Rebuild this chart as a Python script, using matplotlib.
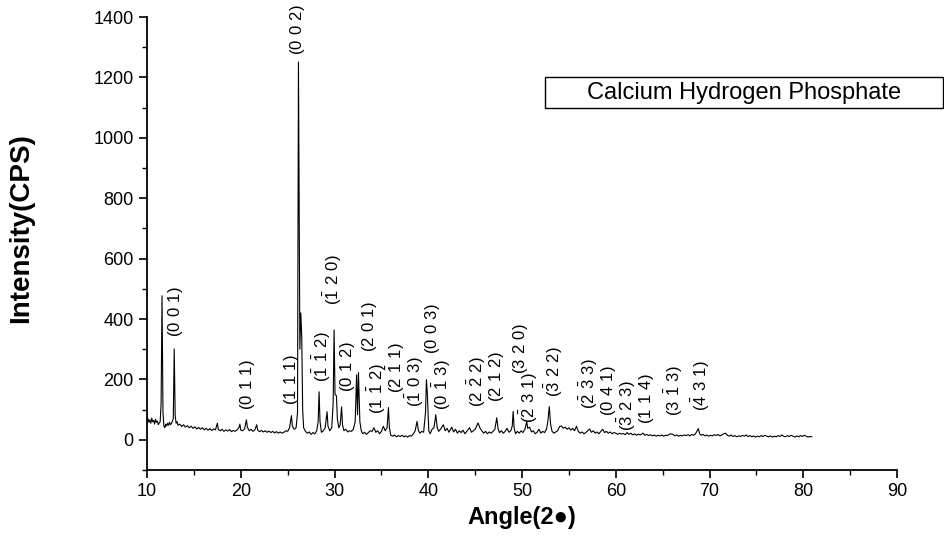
import matplotlib
matplotlib.use("Agg")
import matplotlib.pyplot as plt
from matplotlib.patches import Rectangle
from matplotlib.ticker import MultipleLocator

plt.rcParams['font.family'] = ['Liberation Sans', 'DejaVu Sans']

# XRD pattern (2theta, counts)
angle = [
    10.0, 10.1, 10.2, 10.3, 10.4, 10.5, 10.6, 10.7, 10.8, 10.9,
    11.0, 11.1, 11.2, 11.3, 11.4, 11.5, 11.6, 11.7, 11.8, 11.9,
    12.0, 12.1, 12.2, 12.3, 12.4, 12.5, 12.6, 12.7, 12.8, 12.9,
    13.0, 13.1, 13.2, 13.3, 13.5, 13.7, 13.9, 14.1, 14.3, 14.5,
    14.7, 14.9, 15.1, 15.3, 15.5, 15.7, 15.9, 16.1, 16.3, 16.5,
    16.7, 16.9, 17.1, 17.3, 17.5, 17.6, 17.8, 18.0, 18.2, 18.4,
    18.6, 18.8, 19.0, 19.2, 19.4, 19.6, 19.8, 19.9, 20.0, 20.2,
    20.4, 20.6, 20.7, 20.9, 21.1, 21.3, 21.5, 21.7, 21.8, 22.0,
    22.2, 22.4, 22.6, 22.8, 23.0, 23.2, 23.4, 23.6, 23.8, 24.0,
    24.2, 24.4, 24.6, 24.8, 25.0, 25.2, 25.4, 25.5, 25.7, 25.9,
    26.05, 26.15, 26.3, 26.4, 26.5, 26.6, 26.7, 26.9, 27.1, 27.3,
    27.5, 27.7, 27.9, 28.1, 28.25, 28.35, 28.45, 28.6, 28.8, 29.0,
    29.2, 29.3, 29.5, 29.7, 29.85, 29.95, 30.05, 30.2, 30.3, 30.45,
    30.6, 30.75, 30.85, 31.0, 31.2, 31.4, 31.6, 31.8, 32.0, 32.2,
    32.35, 32.45, 32.55, 32.7, 32.85, 33.0, 33.2, 33.4, 33.6, 33.8,
    34.0, 34.2, 34.4, 34.6, 34.8, 35.0, 35.2, 35.4, 35.6, 35.75,
    35.85, 36.0, 36.2, 36.4, 36.6, 36.8, 37.0, 37.2, 37.4, 37.6,
    37.8, 38.0, 38.2, 38.4, 38.6, 38.8, 38.95, 39.1, 39.3, 39.5,
    39.7, 39.8, 39.9, 40.05, 40.2, 40.4, 40.6, 40.8, 40.95, 41.1,
    41.3, 41.6, 41.8, 42.0, 42.2, 42.5, 42.7, 42.9, 43.1, 43.3,
    43.5, 43.7, 43.9, 44.1, 44.4, 44.6, 44.8, 45.0, 45.3, 45.5,
    45.7, 45.9, 46.1, 46.3, 46.5, 46.7, 46.9, 47.1, 47.3, 47.45,
    47.6, 47.8, 48.0, 48.2, 48.4, 48.6, 48.8, 48.95, 49.05, 49.15,
    49.3, 49.5, 49.7, 49.9, 50.1, 50.3, 50.5, 50.6, 50.8, 51.0,
    51.2, 51.4, 51.6, 51.8, 52.0, 52.2, 52.4, 52.6, 52.75, 52.9,
    53.05, 53.2, 53.4, 53.6, 53.8, 54.0, 54.2, 54.4, 54.6, 54.8,
    55.0, 55.2, 55.4, 55.6, 55.8, 56.0, 56.2, 56.4, 56.6, 56.8,
    57.0, 57.2, 57.4, 57.6, 57.8, 58.0, 58.2, 58.4, 58.6, 58.8,
    59.0, 59.2, 59.4, 59.6, 59.8, 60.0, 60.2, 60.4, 60.6, 60.8,
    61.0, 61.2, 61.4, 61.6, 61.8, 62.0, 62.2, 62.4, 62.6, 62.9,
    63.1, 63.3, 63.5, 63.7, 63.9, 64.1, 64.3, 64.5, 64.7, 64.9,
    65.1, 65.3, 65.5, 65.8, 66.1, 66.3, 66.5, 66.7, 66.9, 67.1,
    67.3, 67.5, 67.7, 67.9, 68.1, 68.3, 68.5, 68.8, 68.95, 69.1,
    69.3, 69.5, 69.7, 69.9, 70.1, 70.3, 70.5, 70.7, 70.9, 71.1,
    71.3, 71.5, 71.7, 71.9, 72.1, 72.3, 72.5, 72.7, 72.9, 73.1,
    73.3, 73.5, 73.7, 73.9, 74.1, 74.3, 74.5, 74.7, 74.9, 75.1,
    75.3, 75.5, 75.7, 75.9, 76.1, 76.3, 76.5, 76.7, 76.9, 77.1,
    77.3, 77.5, 77.7, 77.9, 78.1, 78.3, 78.5, 78.7, 78.9, 79.1,
    79.3, 79.5, 79.7, 79.9, 80.1, 80.3, 80.5, 80.7, 80.9,
]
counts = [
    62, 70, 58, 66, 55, 72, 60, 64, 52, 68,
    58, 62, 50, 56, 60, 120, 477, 90, 45, 40,
    52, 46, 55, 48, 58, 50, 54, 62, 70, 301,
    80, 55, 60, 48, 52, 44, 50, 42, 47, 40,
    45, 38, 43, 36, 41, 35, 40, 33, 38, 32,
    37, 31, 36, 33, 55, 34, 30, 35, 28, 33,
    29, 34, 27, 31, 28, 33, 40, 52, 32, 30,
    36, 66, 42, 30, 35, 28, 33, 50, 32, 27,
    31, 26, 30, 25, 29, 24, 28, 23, 27, 22,
    26, 22, 25, 30, 28, 40, 80, 45, 35, 40,
    90, 1251, 300, 420, 340, 100, 40, 28, 22, 26,
    18, 24, 20, 30, 60, 159, 60, 25, 30, 40,
    93, 45, 30, 40, 120, 364, 150, 146, 70, 40,
    50, 109, 50, 30, 35, 26, 30, 28, 35, 60,
    215, 83, 223, 60, 30, 20, 25, 18, 24, 30,
    28, 40, 25, 30, 20, 28, 45, 30, 40, 107,
    40, 15, 12, 16, 10, 14, 11, 15, 10, 13,
    9, 14, 12, 20, 30, 61, 30, 22, 28, 25,
    90, 199, 150, 30, 20, 35, 40, 83, 40, 28,
    35, 50, 30, 38, 25, 42, 26, 35, 22, 30,
    24, 32, 20, 28, 40, 25, 30, 35, 56, 40,
    30, 22, 28, 20, 26, 22, 28, 35, 73, 35,
    24, 30, 22, 28, 38, 25, 30, 45, 94, 40,
    20, 28, 22, 30, 24, 35, 60, 38, 42, 26,
    30, 20, 25, 35, 22, 28, 24, 35, 60, 110,
    50, 28, 22, 26, 30, 44, 46, 38, 42, 35,
    40, 32, 38, 30, 45, 28, 22, 26, 20, 24,
    30, 36, 25, 30, 22, 26, 20, 28, 35, 24,
    28, 22, 26, 20, 24, 22, 18, 22, 19, 21,
    17, 24, 18, 22, 16, 20, 15, 19, 16, 22,
    15, 18, 14, 17, 13, 16, 12, 15, 13, 16,
    12, 15, 14, 20, 18, 13, 16, 12, 15, 13,
    16, 14, 17, 13, 18, 15, 20, 37, 20, 15,
    18, 13, 16, 12, 15, 13, 17, 14, 18, 13,
    16, 20, 22, 15, 12, 16, 11, 14, 10, 13,
    11, 15, 12, 16, 11, 14, 10, 13, 9, 12,
    10, 14, 11, 15, 12, 10, 13, 9, 12, 10,
    14, 11, 16, 12, 10, 14, 11, 15, 12, 9,
    13, 10, 14, 11, 15, 12, 9, 11, 10,
]

# Miller index labels and where they sit (2theta, intensity)
hkl_text = [
    r"(0\ 0\ 2)", r"(0\ 0\ 1)", r"(0\ 1\ 1)", r"(1\ 1\ 1)",
    r"(\bar{1}\ \bar{1}\ 2)", r"(\bar{1}\ 2\ 0)", r"(0\ 1\ 2)", r"(2\ 0\ 1)",
    r"(1\ \bar{1}\ 2)", r"(2\ \bar{1}\ 1)", r"(\bar{1}\ 0\ 3)", r"(0\ 0\ 3)",
    r"(0\ \bar{1}\ 3)", r"(2\ \bar{2}\ 2)", r"(2\ 1\ 2)", r"(3\ 2\ 0)",
    r"(\bar{2}\ 3\ 1)", r"(\bar{3}\ 2\ 2)", r"(\bar{2}\ \bar{3}\ 3)", r"(0\ 4\ 1)",
    r"(\bar{3}\ 2\ 3)", r"(1\ 1\ 4)", r"(3\ \bar{1}\ 3)", r"(\bar{4}\ 3\ 1)",
]
hkl_x = [26.1, 13.0, 20.7, 25.4, 28.6, 29.8, 31.4, 33.7,
         34.5, 36.5, 38.6, 40.5, 41.5, 45.2, 47.3, 49.8,
         50.7, 53.4, 57.1, 59.2, 61.2, 63.3, 66.2, 69.1]
hkl_y = [1357, 423, 182, 199, 275, 530, 242, 374,
         169, 238, 192, 367, 182, 192, 208, 301,
         139, 225, 185, 162, 113, 136, 161, 178]

fig = plt.figure(figsize=(9.45, 5.44), dpi=100)
ax = fig.add_axes([0.1556, 0.136, 0.7937, 0.8327])

ax.plot(angle, counts, color='black', lw=0.8)

for t, x, y in zip(hkl_text, hkl_x, hkl_y):
    ax.text(x, y, r"$\mathregular{" + t + "}$", rotation=90,
            ha='center', va='center', fontsize=12)

ax.set_xlim(10, 90)
ax.set_ylim(-100, 1400)
ax.xaxis.set_major_locator(MultipleLocator(10))
ax.xaxis.set_minor_locator(MultipleLocator(5))
ax.yaxis.set_major_locator(MultipleLocator(200))
ax.yaxis.set_minor_locator(MultipleLocator(100))
ax.set_yticks(range(0, 1401, 200))

for side in ['top', 'right']:
    ax.spines[side].set_visible(False)
for side in ['left', 'bottom']:
    ax.spines[side].set_linewidth(1.3)

ax.tick_params(which='major', direction='out', length=6, width=1.2, labelsize=13)
ax.tick_params(which='minor', direction='out', length=3.5, width=1.0)

ax.set_xlabel("Angle(2\u25cf)", fontsize=17, fontweight='bold')
ax.set_ylabel("Intensity(CPS)", fontsize=20, fontweight='bold')
ax.xaxis.set_label_coords(0.5, -0.08)
ax.yaxis.set_label_coords(-0.15, 0.535)

# sample name box, partly outside the axes
fig.add_artist(Rectangle((545 / 945, 1 - 108 / 544), 398 / 945, 31 / 544,
                         transform=fig.transFigure, fill=False,
                         edgecolor='black', lw=1.0))
fig.text(744 / 945, 1 - 93 / 544, "Calcium Hydrogen Phosphate",
         ha='center', va='center', fontsize=17)

fig.savefig("out.png", dpi=100)
